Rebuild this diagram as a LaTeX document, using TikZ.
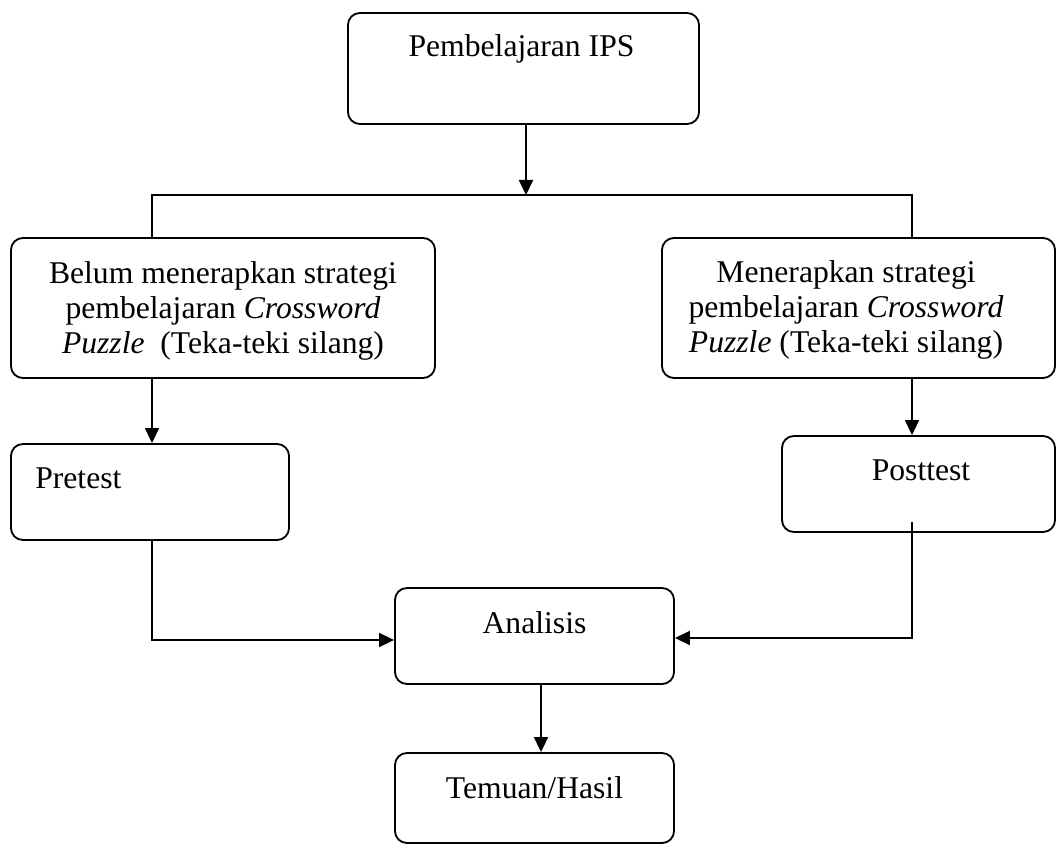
\documentclass[tikz,border=0pt]{standalone}
\usepackage{fontspec}
\setmainfont{Liberation Serif}
\usetikzlibrary{calc}
\usetikzlibrary{arrows.meta}

\tikzset{
  box/.style={draw=black, line width=1.3pt, rounded corners=0.3cm, inner sep=0pt},
  txt/.style={font=\fontsize{22.5}{24.8}\selectfont, inner sep=0pt, align=center},
  link/.style={black, line width=1.3pt},
  arr/.style={black, line width=1.3pt, -{Triangle[length=0.375cm,width=0.35cm]}}
}

\begin{document}
\begin{tikzpicture}[x=0.025cm,y=-0.025cm]

\useasboundingbox (0,0) rectangle (1057,845);

\node[box, minimum width=8.775cm, minimum height=2.775cm] (ips) at (523.5,68.5) {};
\node[box, minimum width=10.6cm, minimum height=3.5cm] (belum) at (223,308) {};
\node[box, minimum width=9.825cm, minimum height=3.5cm] (terap) at (858.5,308) {};
\node[box, minimum width=6.95cm, minimum height=2.4cm] (pre) at (150,492) {};
\node[box, minimum width=6.825cm, minimum height=2.4cm] (post) at (918.5,484) {};
\node[box, minimum width=6.975cm, minimum height=2.4cm] (ana) at (534.5,636) {};
\node[box, minimum width=6.975cm, minimum height=2.25cm] (hasil) at (534.5,798) {};

\node[txt, anchor=base] (ipstext) at (521.5,57) {Pembelajaran IPS};
\node[txt] (belumtext) at (223,311) {Belum menerapkan strategi\\ pembelajaran \textit{Crossword}\\ \textit{Puzzle}~ (Teka-teki silang)};
\node[txt] (teraptext) at (846,310) {Menerapkan strategi\\ pembelajaran \textit{Crossword}\\ \textit{Puzzle} (Teka-teki silang)};
\node[txt, anchor=base west] (pretext) at (35,488) {Pretest};
\node[txt, anchor=base] (posttext) at (921,480) {Posttest};
\node[txt, anchor=base] (anatext) at (534.5,633) {Analisis};
\node[txt, anchor=base] (hasiltext) at (534.5,798) {Temuan/Hasil};

\coordinate (split) at (526,195);
\coordinate (lx) at (152,195);
\coordinate (rx) at (912,195);
\coordinate (mx) at (541,700);
\coordinate (prein) at (152,640);
\coordinate (poststart) at (912,522);
\coordinate (postin) at (912,638);

\draw[arr] (ips.south -| split) -- (split);
\draw[link] (belum.north -| lx) -- (lx) -- (rx) -- (terap.north -| rx);
\draw[arr] (belum.south -| lx) -- (pre.north -| lx);
\draw[arr] (terap.south -| rx) -- (post.north -| rx);
\draw[arr] (pre.south -| lx) -- (prein) -- (prein -| ana.west);
\draw[arr] (poststart) -- (postin) -- (postin -| ana.east);
\draw[arr] (ana.south -| mx) -- (hasil.north -| mx);

\end{tikzpicture}
\end{document}
